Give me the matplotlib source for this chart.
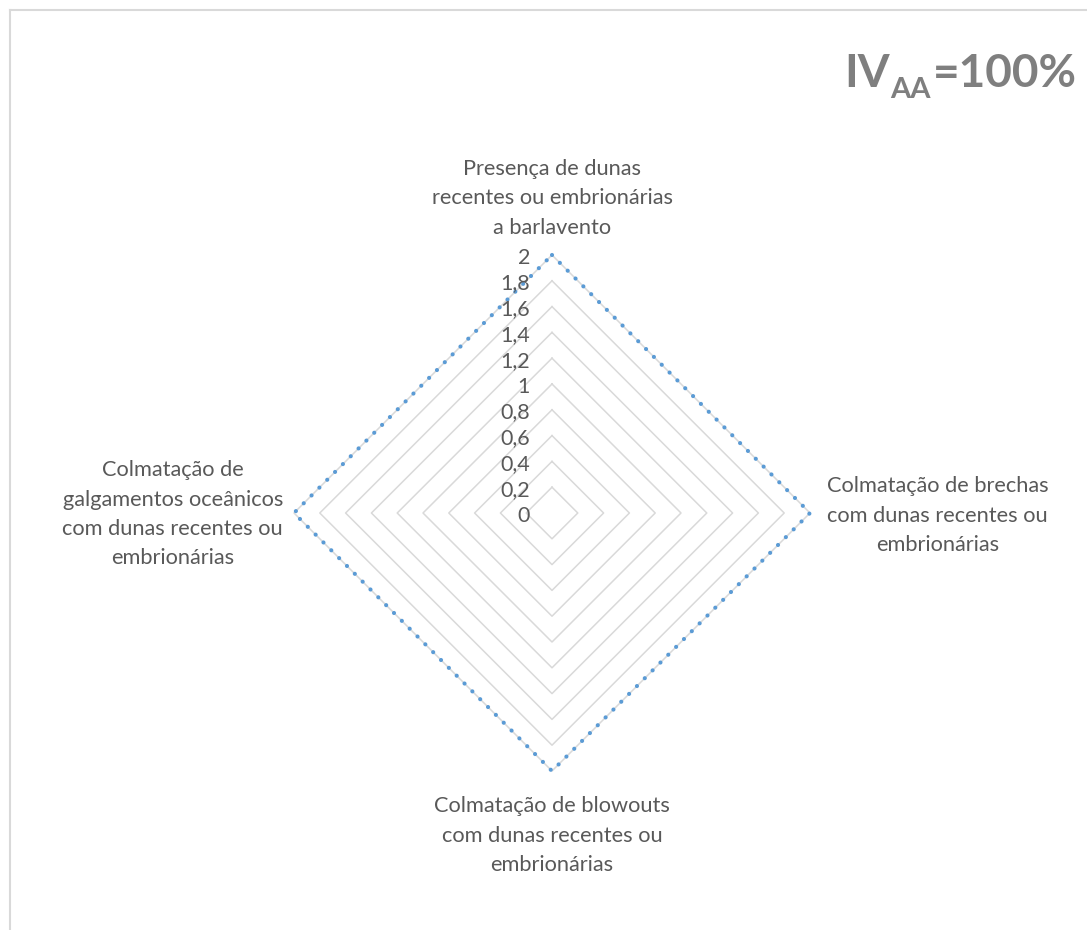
import numpy as np
import matplotlib
matplotlib.use("Agg")
import matplotlib.pyplot as plt
from matplotlib.lines import Line2D

categories = [
    "Presença de dunas\nrecentes ou embrionárias\na barlavento",
    "Colmatação de brechas\ncom dunas recentes ou\nembrionárias",
    "Colmatação de blowouts\ncom dunas recentes ou\nembrionárias",
    "Colmatação de\ngalgamentos oceânicos\ncom dunas recentes ou\nembrionárias",
]
values = [2, 2, 2, 2]
ticks = [0, 0.2, 0.4, 0.6, 0.8, 1, 1.2, 1.4, 1.6, 1.8, 2]
tick_labels = ["0", "0,2", "0,4", "0,6", "0,8", "1", "1,2", "1,4", "1,6", "1,8", "2"]
title_main, title_sub, title_tail = "IV", "AA", "=100%"

FONT = "Lato"
TXT = "#595959"
GRID = "#D9D9D9"
LINE = "#5B9BD5"

W, H = 1087, 930
fig = plt.figure(figsize=(W / 100, H / 100), dpi=100)
fig.patch.set_facecolor("white")

# chart border (top and left visible)
fig.add_artist(Line2D([9.5 / W, 9.5 / W], [0, 1 - 10 / H], transform=fig.transFigure, color=GRID, lw=1.5))
fig.add_artist(Line2D([9.5 / W, 1], [1 - 10 / H, 1 - 10 / H], transform=fig.transFigure, color=GRID, lw=1.5))

cx, cy = 552, 930 - 513
span = 4.4 * 129
ax = fig.add_axes([(cx - span / 2) / W, (cy - span / 2) / H, span / W, span / H])
ax.set_xlim(-2.2, 2.2)
ax.set_ylim(-2.2, 2.2)
ax.set_aspect("equal")
ax.axis("off")

n = len(categories)
angles = np.pi / 2 - 2 * np.pi * np.arange(n) / n

# grid rings
for t in ticks[1:]:
    xs = np.append(t * np.cos(angles), t * np.cos(angles[0]))
    ys = np.append(t * np.sin(angles), t * np.sin(angles[0]))
    ax.plot(xs, ys, color=GRID, lw=1.1, zorder=1)

# tick labels
for t, lab in zip(ticks, tick_labels):
    ax.text(-0.17, t - 0.02, lab, ha="right", va="center", fontsize=15.5, color=TXT, family=FONT, zorder=3)

# data series
v = np.array(values, dtype=float)
xs = np.append(v * np.cos(angles), v[0] * np.cos(angles[0]))
ys = np.append(v * np.sin(angles), v[0] * np.sin(angles[0]))
ax.plot(xs, ys, color=LINE, lw=3.0, linestyle=(0, (0.01, 2.65)), dash_capstyle="round",
        solid_capstyle="round", zorder=2)

# category labels
label_pos = [(0.0, 2.44), (2.99, -0.02), (0.0, -2.5), (-2.94, -0.01)]
for lab, (lx, ly) in zip(categories, label_pos):
    ax.text(lx, ly, lab, ha="center", va="center", fontsize=15.7, color=TXT, family=FONT,
            linespacing=1.58, clip_on=False)

# title IV_AA=100%
fig.canvas.draw()
r = fig.canvas.get_renderer()
base_y = 1 - 87 / H
tcol = "#7F7F7F"
t3 = fig.text(1077 / W, base_y, title_tail, ha="right", va="baseline", fontsize=33,
              fontweight="bold", color=tcol, family=FONT)
bb3 = t3.get_window_extent(r)
t2 = fig.text((bb3.x0 - 2) / W, 1 - 98 / H, title_sub, ha="right", va="baseline", fontsize=21,
              fontweight="bold", color=tcol, family=FONT)
bb2 = t2.get_window_extent(r)
t1 = fig.text((bb2.x0 - 1) / W, base_y, title_main, ha="right", va="baseline", fontsize=33,
              fontweight="bold", color=tcol, family=FONT)

fig.savefig("out.png", dpi=100, facecolor="white")
